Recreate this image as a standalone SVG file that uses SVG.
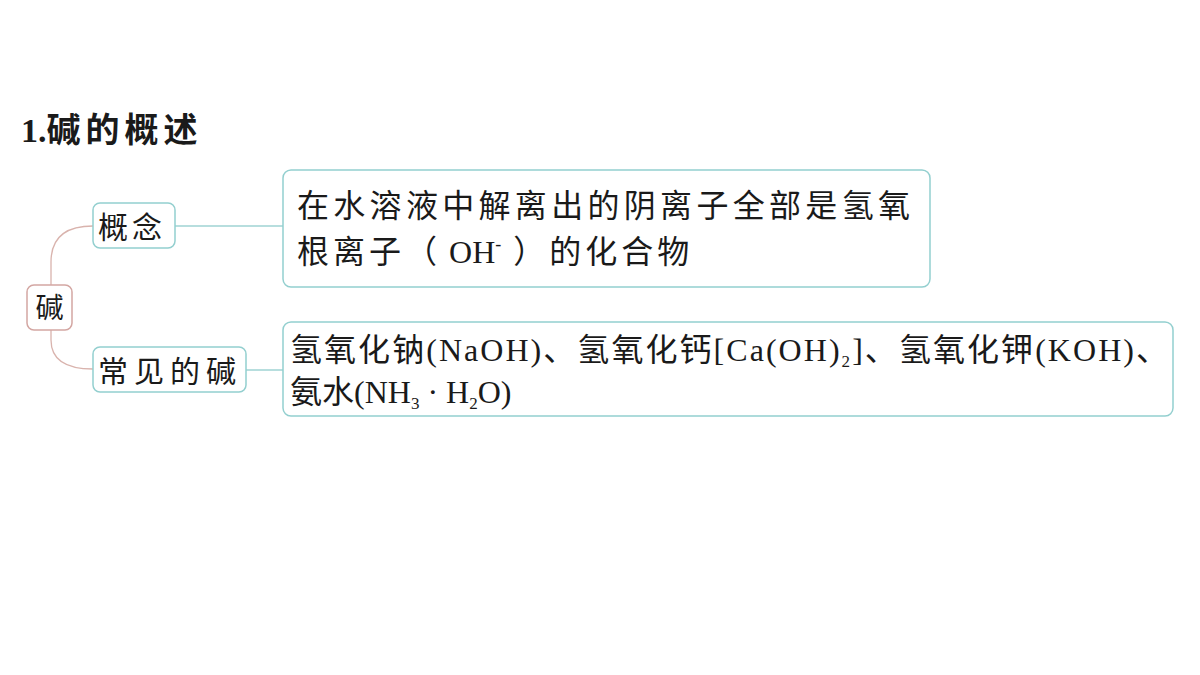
<svg xmlns="http://www.w3.org/2000/svg" width="1200" height="675" viewBox="0 0 1200 675">
<style>
.t{font-family:"Liberation Serif","Noto Sans CJK SC",serif;fill:#1a1a1a;}
.box{fill:#fff;stroke:#93cfcf;stroke-width:1.5;}
.root{fill:#fff;stroke:#d3a6a2;stroke-width:1.5;}
.lnk{fill:none;stroke:#9fd3d3;stroke-width:1.5;}
.crv{fill:none;stroke:#d9b3ad;stroke-width:1.3;}
</style>
<rect width="1200" height="675" fill="#fff"/>
<text class="t" x="21" y="142" font-size="34" font-weight="bold">1.<tspan letter-spacing="5">碱的概述</tspan></text>
<g id="connectors">
<path class="crv" d="M51,285 V262 Q51,226 93,226"/>
<path class="crv" d="M51,330 V340 Q51,369 93,369"/>
<line class="lnk" x1="175" y1="226" x2="283" y2="226"/>
<line class="lnk" x1="246" y1="370" x2="283" y2="370"/>
</g>
<g id="root">
<rect class="root" x="27" y="285" width="45" height="45" rx="7"/>
<text class="t" x="49.5" y="318" font-size="28" text-anchor="middle">碱</text>
</g>
<g id="concept">
<rect class="box" x="93" y="203" width="82" height="45" rx="7"/>
<text class="t" x="98" y="238" font-size="30" letter-spacing="4">概念</text>
</g>
<g id="common">
<rect class="box" x="93" y="347" width="153" height="45" rx="7"/>
<text class="t" x="98" y="382" font-size="30" letter-spacing="6">常见的碱</text>
</g>
<g id="definition">
<rect class="box" x="283" y="170" width="647" height="117" rx="8"/>
<text class="t" x="297" y="217" font-size="32" textLength="613" lengthAdjust="spacing">在水溶液中解离出的阴离子全部是氢氧</text>
<text class="t" x="297" y="263" font-size="32"><tspan letter-spacing="4">根离子（</tspan> OH<tspan font-size="18" dy="-13">-</tspan><tspan dy="13" letter-spacing="4"> ）的化合物</tspan></text>
</g>
<g id="examples">
<rect class="box" x="283" y="322" width="890" height="94" rx="8"/>
<text class="t" x="290" y="361" font-size="32" textLength="878" lengthAdjust="spacing">氢氧化钠(NaOH)、氢氧化钙[Ca(OH)<tspan font-size="17" dy="6">2</tspan><tspan dy="-6">]、氢氧化钾(KOH)、</tspan></text>
<text class="t" x="290" y="403" font-size="32">氨水(NH<tspan font-size="17" dy="6">3</tspan><tspan dy="-6"> · H</tspan><tspan font-size="17" dy="6">2</tspan><tspan dy="-6">O)</tspan></text>
</g>
</svg>
